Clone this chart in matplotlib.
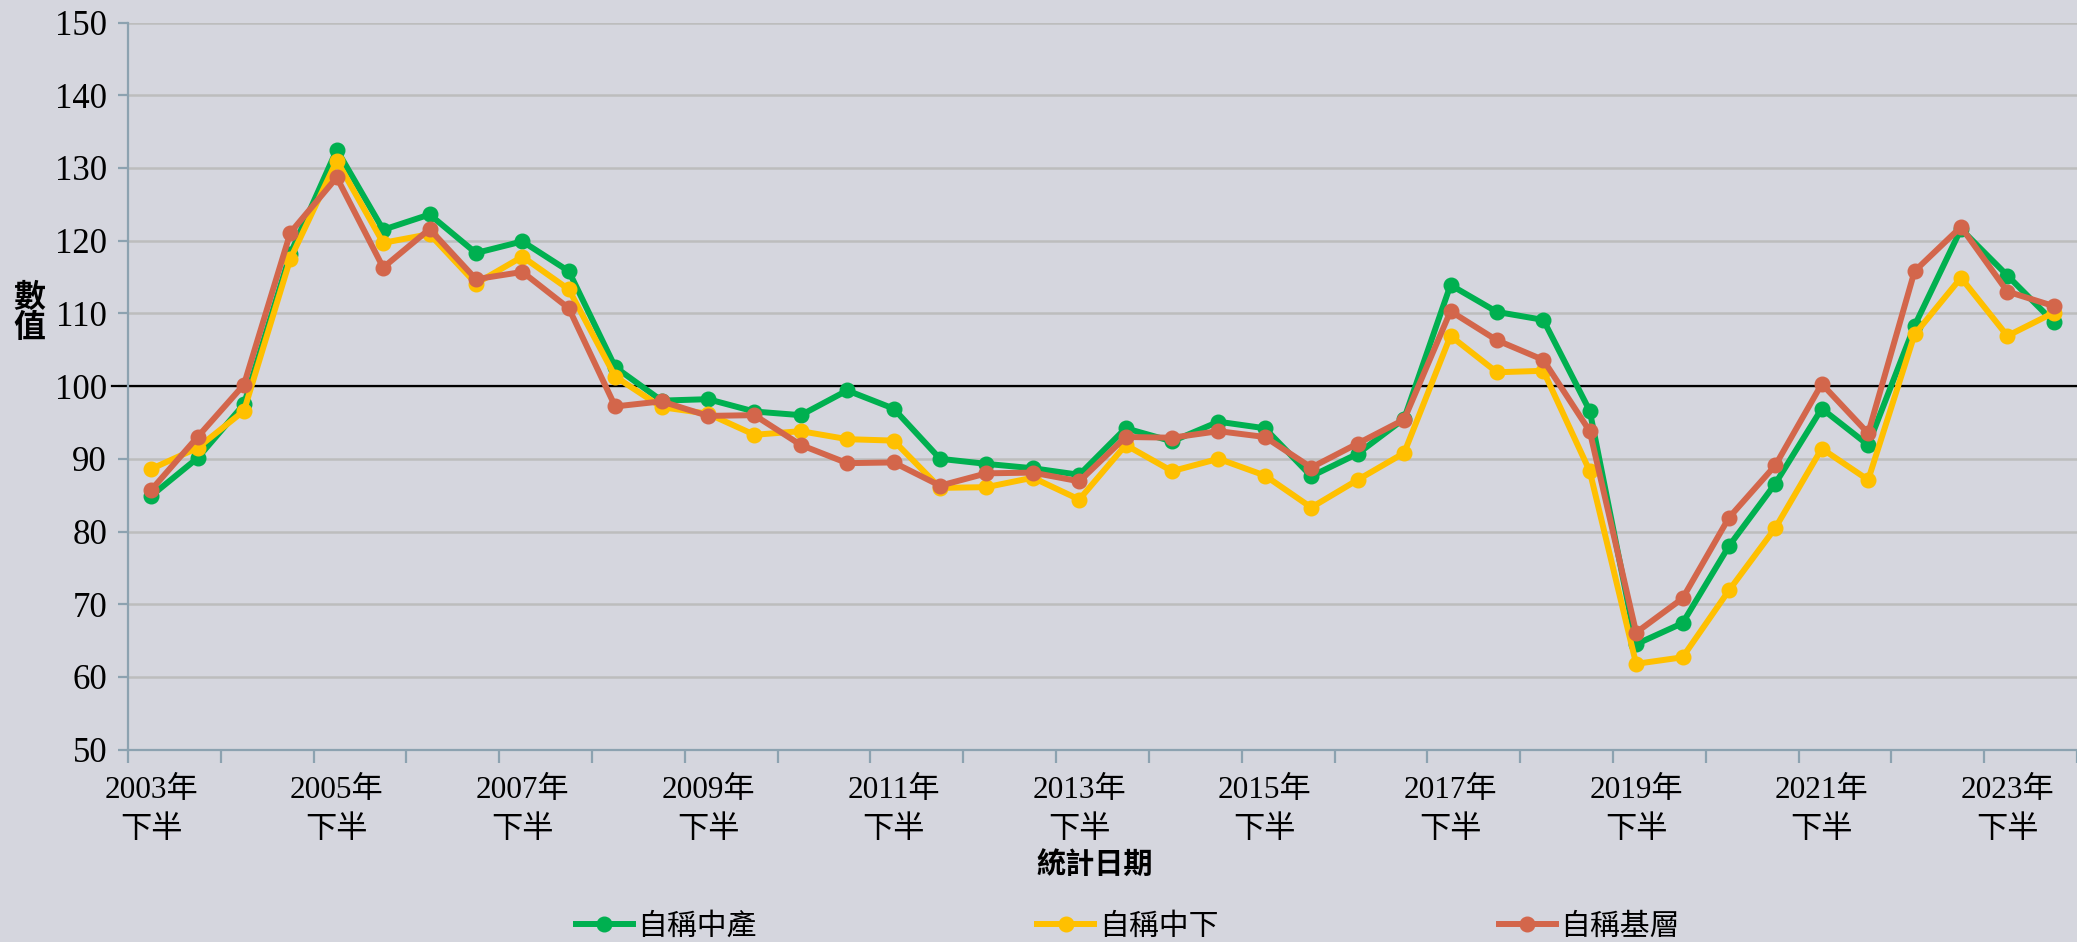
import numpy as np
import matplotlib
matplotlib.use("Agg")
import matplotlib.pyplot as plt

# 半年期資料：2003 下半 ~ 2024 上半
years = list(range(2003, 2024, 2))
tick_labels = [f"{y}年\n下半" for y in years]

series_names = ["自稱中產", "自稱中下", "自稱基層"]
middle = [84.9, 90.1, 97.5, 118.2, 132.5, 121.5, 123.6, 118.3, 119.9, 115.8,
          102.6, 98.0, 98.2, 96.5, 96.0, 99.4, 96.9, 90.0, 89.3, 88.7,
          87.8, 94.2, 92.4, 95.1, 94.2, 87.6, 90.7, 95.5, 113.9, 110.2,
          109.1, 96.6, 64.5, 67.4, 78.0, 86.6, 96.9, 91.9, 108.3, 121.6,
          115.2, 108.8]
lower_middle = [88.6, 91.5, 96.6, 117.5, 131.0, 119.7, 120.9, 114.1, 117.8, 113.3,
                101.3, 97.1, 96.2, 93.3, 93.8, 92.7, 92.5, 86.0, 86.1, 87.4,
                84.4, 91.9, 88.3, 90.0, 87.7, 83.3, 87.1, 90.8, 106.9, 101.9,
                102.1, 88.3, 61.8, 62.7, 71.9, 80.5, 91.4, 87.1, 107.1, 114.9,
                106.9, 110.1]
grassroots = [85.7, 93.0, 100.2, 121.1, 128.7, 116.3, 121.6, 114.7, 115.7, 110.7,
              97.2, 97.9, 95.9, 96.0, 91.9, 89.4, 89.5, 86.3, 88.0, 88.1,
              86.9, 93.0, 92.9, 93.8, 93.0, 88.8, 92.1, 95.4, 110.3, 106.3,
              103.6, 93.8, 66.1, 70.8, 81.9, 89.1, 100.3, 93.5, 115.8, 121.9,
              113.0, 111.0]
colors = ["#00B050", "#FFC000", "#D3664B"]

bg = "#D5D6DE"
axis_col = "#8CA2B0"
serif_cjk = ["Liberation Serif", "Noto Sans CJK TC"]

fig = plt.figure(figsize=(20.77, 9.42), dpi=100, facecolor=bg)
ax = fig.add_axes([0.0616, 0.2042, 0.9384, 0.7719])
ax.set_facecolor(bg)

x = np.arange(len(middle))
for vals, c, name in zip([middle, lower_middle, grassroots], colors, series_names):
    ax.plot(x, vals, color=c, lw=4.3, marker="o", ms=10.5, label=name,
            solid_joinstyle="round", zorder=3)

ax.axhline(100, color="black", lw=1.6, zorder=2, xmin=-0.008, clip_on=False)

ax.set_xlim(-0.5, len(middle) - 0.5)
ax.set_ylim(50, 150)
ax.set_yticks(np.arange(50, 151, 10))
ax.yaxis.grid(True, color="#BDBDBD", lw=1.8)
ax.set_axisbelow(True)

for s in ["top", "right"]:
    ax.spines[s].set_visible(False)
for s in ["left", "bottom"]:
    ax.spines[s].set_color(axis_col)
    ax.spines[s].set_linewidth(1.6)

# 主刻度在類別交界（每兩期），標籤放在次刻度
ax.set_xticks(np.arange(-0.5, len(middle), 2))
ax.set_xticklabels([])
ax.set_xticks(np.arange(0, len(middle), 4), minor=True)
ax.set_xticklabels(tick_labels, minor=True, family=serif_cjk, fontsize=22.5,
                   linespacing=1.5)
ax.tick_params(axis="x", which="major", length=9, width=1.6, color=axis_col)
ax.tick_params(axis="x", which="minor", length=0, pad=19)
ax.tick_params(axis="y", length=7, width=1.6, color=axis_col, pad=8)
for lab in ax.get_yticklabels():
    lab.set_family(serif_cjk)
    lab.set_fontsize(25)

fig.text(0.014, 0.667, "數\n值", family=serif_cjk, fontsize=23,
         fontweight="bold", ha="center", va="center", linespacing=1.0)
fig.text(0.527, 0.081, "統計日期", family=serif_cjk, fontsize=21,
         fontweight="bold", ha="center", va="center")

fig.legend(loc="center", bbox_to_anchor=(0.543, 0.016), ncol=3, frameon=False,
           prop={"family": serif_cjk, "size": 21.5}, handlelength=1.9,
           handletextpad=0.15, columnspacing=9.4)

fig.savefig("out.png", dpi=100, facecolor=bg)
